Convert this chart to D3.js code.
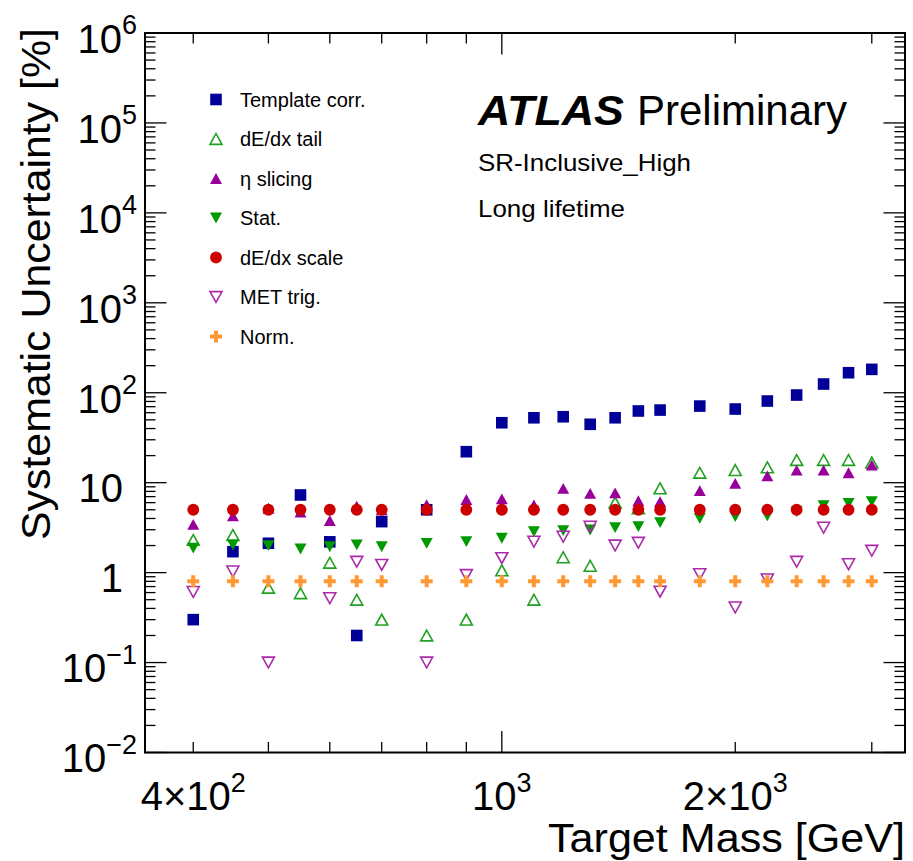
<!DOCTYPE html>
<html><head><meta charset="utf-8">
<script src="https://cdn.jsdelivr.net/npm/d3@7"></script>
<style>
body{margin:0;background:#fff}
svg{display:block}
text{font-family:"Liberation Sans",Arial,Helvetica,sans-serif;fill:#000}
</style>
</head><body>
<svg id="c" width="913" height="861"></svg>
<script>
// ---------------- data ----------------
const masses = [400,450,500,550,600,650,700,800,900,1000,1100,1200,1300,1400,1500,1600,1800,2000,2200,2400,2600,2800,3000];
const templateCorr = [0.30,1.71,2.12,7.3,2.2,0.20,3.69,5.0,22.1,46.4,52.7,54.1,44.6,52.7,62.7,64.2,71.1,65.9,80.9,94.3,125,167,182];
const dEdxTail   = [2.31,2.62,0.68,0.59,1.29,0.50,0.30,0.20,0.30,1.06,0.50,1.48,1.19,6.0,5.2,8.65,12.9,13.8,14.8,17.9,17.9,17.9,16.7];
const etaSlicing = [3.44,4.27,5.2,4.7,3.8,5.5,5.0,5.7,6.5,6.6,5.65,8.65,7.6,7.7,6.3,6.15,8.15,9.85,11.9,13.8,13.8,12.9,15.7];
const statUnc    = [1.87,2.03,2.0,1.83,1.94,2.03,1.94,2.12,2.21,2.41,2.86,2.93,2.98,3.16,3.24,3.6,4.02,4.19,4.27,4.76,5.55,5.9,6.15];
const dEdxScale  = [5,5,5,5,5,5,5,5,5,5,5,5,5,5,5,5,5,5,5,5,5,5,5];
const metTrig    = [0.61,1.03,0.10,null,0.52,1.32,1.22,0.10,0.94,1.45,2.21,2.51,3.24,2.0,2.15,0.615,0.96,0.41,0.84,1.32,3.16,1.24,1.75];
const normUnc    = [0.8,0.8,0.8,0.8,0.8,0.8,0.8,0.8,0.8,0.8,0.8,0.8,0.8,0.8,0.8,0.8,0.8,0.8,0.8,0.8,0.8,0.8,0.8];

const seriesLabels = ["Template corr.","dE/dx tail","\u03b7 slicing","Stat.","dE/dx scale","MET trig.","Norm."];
const xDomain = [346.6, 3311];
const yDomain = [0.01, 1e6];
const xLabelTicks = [400, 1000, 2000];
const xLabelTexts = ["4\u00d710^2", "10^3", "2\u00d710^3"];
const xMinorTicks = [400,500,600,700,800,900,2000,3000];
const xMajorTicks = [1000];
const yLabelTexts = ["10^\u22122","10^\u22121","1","10","10^2","10^3","10^4","10^5","10^6"];
const xTitle = "Target Mass [GeV]";
const yTitle = "Systematic Uncertainty [%]";

// ---------------- layout ----------------
const L = 145, R = 905, T = 33, B = 752.5;
const svg = d3.select("#c");
const x = d3.scaleLog().domain(xDomain).range([L, R]);
const y = d3.scaleLog().domain(yDomain).range([B, T]);

const series = [
  {vals: templateCorr, shape: "square", color: "#000099", open: false},
  {vals: dEdxTail,     shape: "tup",    color: "#22a022", open: true},
  {vals: etaSlicing,   shape: "tup",    color: "#990099", open: false},
  {vals: statUnc,      shape: "tdown",  color: "#009900", open: false},
  {vals: dEdxScale,    shape: "circle", color: "#cc0000", open: false},
  {vals: metTrig,      shape: "tdown",  color: "#aa2aaa", open: true},
  {vals: normUnc,      shape: "plus",   color: "#ff9933", open: false}
];

function shapePath(s) {
  const p = d3.path();
  if (s === "square") { const h = 5.8; p.rect(-h, -h, 2*h, 2*h); }
  else if (s === "circle") { p.arc(0, 0, 5.9, 0, 2*Math.PI); p.closePath(); }
  else if (s === "tup") { const w = 6, h = 5.4; p.moveTo(0,-h); p.lineTo(w,h); p.lineTo(-w,h); p.closePath(); }
  else if (s === "tdown") { const w = 6, h = 5.4; p.moveTo(0,h); p.lineTo(w,-h); p.lineTo(-w,-h); p.closePath(); }
  else if (s === "plus") {
    const a = 6, t = 2;
    p.moveTo(-t,-a); p.lineTo(t,-a); p.lineTo(t,-t); p.lineTo(a,-t); p.lineTo(a,t); p.lineTo(t,t);
    p.lineTo(t,a); p.lineTo(-t,a); p.lineTo(-t,t); p.lineTo(-a,t); p.lineTo(-a,-t); p.lineTo(-t,-t); p.closePath();
  }
  return p.toString();
}
function styleMarker(sel, sr) {
  sel.attr("d", shapePath(sr.shape))
    .attr("fill", sr.open ? "none" : sr.color)
    .attr("stroke", sr.open ? sr.color : "none")
    .attr("stroke-width", sr.open ? 1.6 : 0);
}

// ---------------- axes ticks ----------------
const tickG = svg.append("g").attr("stroke", "#000").attr("stroke-width", 1.3);
function xTicks(vals, len) {
  vals.forEach(v => {
    tickG.append("line").attr("x1", x(v)).attr("x2", x(v)).attr("y1", B).attr("y2", B - len);
    tickG.append("line").attr("x1", x(v)).attr("x2", x(v)).attr("y1", T).attr("y2", T + len);
  });
}
xTicks(xMinorTicks, 10.5);
xTicks(xMajorTicks, 21.5);
const yAll = y.ticks();
yAll.forEach(v => {
  const major = Math.abs(Math.log10(v) - Math.round(Math.log10(v))) < 1e-9;
  const len = major ? 21.5 : 10.5;
  tickG.append("line").attr("x1", L).attr("x2", L + len).attr("y1", y(v)).attr("y2", y(v));
  tickG.append("line").attr("x1", R).attr("x2", R - len).attr("y1", y(v)).attr("y2", y(v));
});
svg.append("rect").attr("x", L).attr("y", T).attr("width", R - L).attr("height", B - T)
  .attr("fill", "none").attr("stroke", "#000").attr("stroke-width", 2);

// ---------------- tick labels ----------------
function powLabel(g, str, px, py, anchor, fs, sfs, dy) {
  const parts = str.split("^");
  const t = g.append("text").attr("x", px).attr("y", py).attr("text-anchor", anchor).style("font-size", fs + "px");
  t.append("tspan").text(parts[0]);
  if (parts.length > 1) t.append("tspan").attr("dy", dy).style("font-size", sfs + "px").text(parts[1]);
  return t;
}
const labG = svg.append("g");
xLabelTicks.forEach((v, i) => powLabel(labG, xLabelTexts[i], x(v), 810, "middle", 40, 27, -18));
const yDecades = yAll.filter(v => Math.abs(Math.log10(v) - Math.round(Math.log10(v))) < 1e-9);
yDecades.forEach((v, i) => {
  const s = yLabelTexts[i];
  const hasSup = s.indexOf("^") >= 0;
  powLabel(labG, s, hasSup ? 137 : 123, y(v) + 19.8, "end", 40, 27, -18.4);
});

svg.append("text").attr("x", R).attr("y", 852).attr("text-anchor", "end")
  .style("font-size", "40px").attr("textLength", 357).attr("lengthAdjust", "spacingAndGlyphs").text(xTitle);
svg.append("text").attr("transform", "translate(50,28) rotate(-90)").attr("text-anchor", "end")
  .style("font-size", "40px").attr("textLength", 512).attr("lengthAdjust", "spacingAndGlyphs").text(yTitle);

// ---------------- markers ----------------
series.forEach(sr => {
  const pts = masses.map((m, i) => ({m, v: sr.vals[i]})).filter(d => d.v != null && d.v > 0);
  svg.append("g").selectAll("path").data(pts).join("path")
    .attr("transform", d => `translate(${x(d.m)},${y(d.v)})`)
    .call(sel => styleMarker(sel, sr));
});

// ---------------- legend ----------------
const legG = svg.append("g");
series.forEach((sr, i) => {
  const cy = 99.5 + i * 39.5;
  legG.append("path").attr("transform", `translate(216,${cy})`).call(sel => styleMarker(sel, sr));
  legG.append("text").attr("x", 240).attr("y", cy + 7).style("font-size", "20px").text(seriesLabels[i]);
});

// ---------------- annotations ----------------
svg.append("text").attr("x", 478).attr("y", 125).style("font-size", "42px")
  .style("font-weight", "bold").style("font-style", "italic")
  .attr("textLength", 146).attr("lengthAdjust", "spacingAndGlyphs").text("ATLAS");
svg.append("text").attr("x", 637).attr("y", 125).style("font-size", "42px").text("Preliminary");
svg.append("text").attr("x", 478).attr("y", 170.7).style("font-size", "24px")
  .attr("textLength", 213).attr("lengthAdjust", "spacingAndGlyphs").text("SR-Inclusive_High");
svg.append("text").attr("x", 478).attr("y", 216.7).style("font-size", "24px")
  .attr("textLength", 147).attr("lengthAdjust", "spacingAndGlyphs").text("Long lifetime");
</script>
</body></html>
